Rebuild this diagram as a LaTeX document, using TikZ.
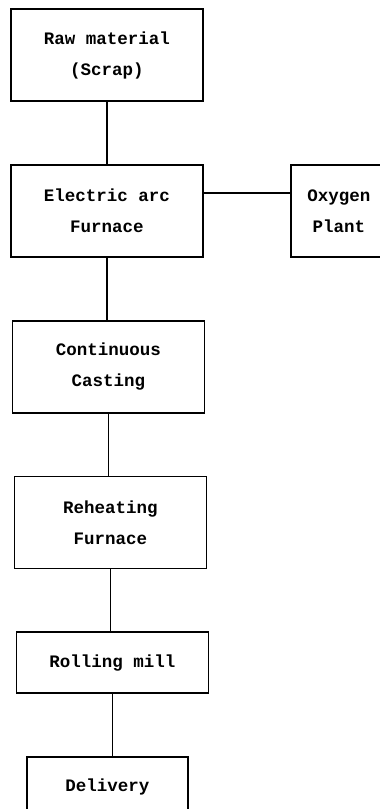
\documentclass[tikz,border=0pt]{standalone}
\usepackage{fontspec}
\setmonofont{Liberation Mono}
\usepackage{tikz}
\usetikzlibrary{positioning}

\begin{document}
\begin{tikzpicture}[x=1pt,y=1pt,node distance=62pt]

\tikzstyle{block} = [rectangle, minimum width=192pt, minimum height=92pt, inner sep=0pt, align=center, draw=black, line width=1.8pt, font=\ttfamily\bfseries\fontsize{17.5}{31}\selectfont]
\tikzstyle{line} = [line width=1.8pt]

\useasboundingbox (0,0) rectangle (380,-809);

\node (scrap) [block] at (107,-55) {Raw material\\(Scrap)};
\node (furnace) [block, below=of scrap] {Electric arc\\Furnace};
\node (oxygen) [block, right=86pt of furnace, minimum width=96pt] {Oxygen\\Plant};
\node (casting) [block, below=of furnace, xshift=1.5pt] {Continuous\\Casting};
\node (reheat) [block, below=of casting, xshift=2pt] {Reheating\\Furnace};
\node (rolling) [block, below=of reheat, xshift=2pt, minimum height=61pt] {Rolling mill};
\node (delivery) [block, below=of rolling, xshift=-5pt, minimum width=161pt, minimum height=60pt] {Delivery};

\draw [line] (scrap) -- (scrap |- furnace.north);
\draw [line] (furnace) -- (furnace |- casting.north);
\draw [line] (casting) -- (casting |- reheat.north);
\draw [line] (reheat) -- (reheat |- rolling.north);
\draw [line] (rolling) -- (rolling |- delivery.north);
\draw [line] ([yshift=18pt]furnace.east) -- ([yshift=18pt]oxygen.west);

\end{tikzpicture}
\end{document}
